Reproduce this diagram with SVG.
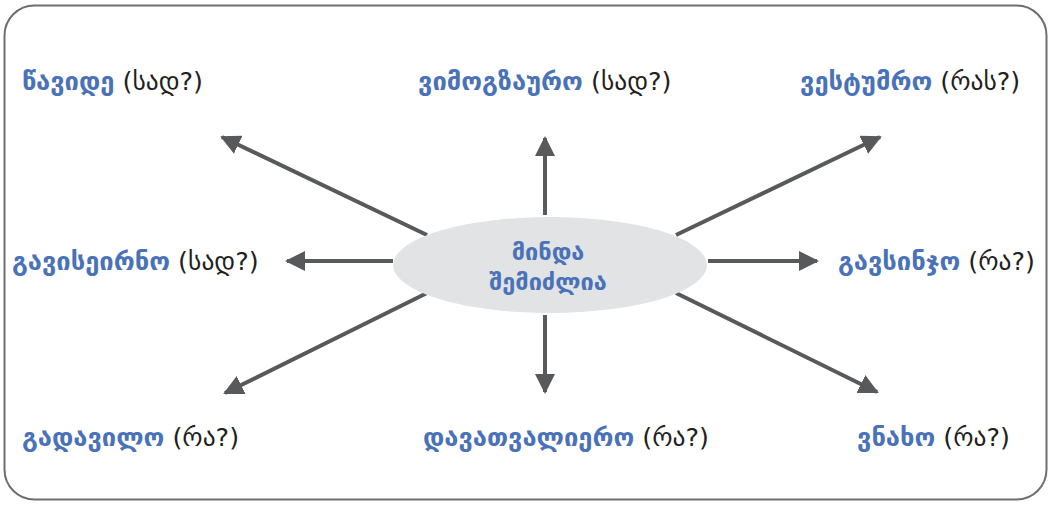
<svg xmlns="http://www.w3.org/2000/svg" width="1051" height="505" viewBox="0 0 1051 505">
<style>
.lbl{font-family:"DejaVu Sans","Noto Sans",sans-serif;font-size:25.5px}
.b{fill:#4a72b8;font-weight:bold}
.k{fill:#231f20}
.c{font-family:"DejaVu Sans","Noto Sans",sans-serif;font-size:23.5px;fill:#4a72b8;font-weight:bold;text-anchor:middle}
.arr{stroke:#58595b;stroke-width:4;fill:none;marker-end:url(#ah)}
</style>
<defs>
<marker id="ah" viewBox="0 0 10 10" refX="9" refY="5" markerWidth="5" markerHeight="5" markerUnits="strokeWidth" orient="auto">
<path d="M0,0 L10,5 L0,10 z" fill="#58595b"/>
</marker>
</defs>
<rect x="4.5" y="5.5" width="1042" height="494" rx="30" fill="#fff" stroke="#6d6e71" stroke-width="2"/>
<g id="connectors">
<line class="arr" x1="427" y1="235" x2="222" y2="137"/>
<line class="arr" x1="545" y1="215" x2="545" y2="138"/>
<line class="arr" x1="676" y1="235" x2="880" y2="137"/>
<line class="arr" x1="393" y1="261" x2="287" y2="261"/>
<line class="arr" x1="708" y1="261" x2="817" y2="261"/>
<line class="arr" x1="427" y1="293" x2="225" y2="393"/>
<line class="arr" x1="545" y1="315" x2="545" y2="392"/>
<line class="arr" x1="676" y1="293" x2="877" y2="392"/>
</g>
<g id="center">
<ellipse cx="550" cy="265" rx="157" ry="48" fill="#e2e3e5"/>
<text class="c" x="548" y="260">მინდა</text>
<text class="c" x="548" y="290">შემიძლია</text>
</g>
<g id="n1"><text class="lbl" x="22" y="90"><tspan class="b">წავიდე</tspan><tspan class="k"> (სად?)</tspan></text></g>
<g id="n2"><text class="lbl" x="418" y="90"><tspan class="b">ვიმოგზაურო</tspan><tspan class="k"> (სად?)</tspan></text></g>
<g id="n3"><text class="lbl" x="800" y="90"><tspan class="b">ვესტუმრო</tspan><tspan class="k"> (რას?)</tspan></text></g>
<g id="n4"><text class="lbl" x="12" y="270"><tspan class="b">გავისეირნო</tspan><tspan class="k"> (სად?)</tspan></text></g>
<g id="n5"><text class="lbl" x="838" y="270"><tspan class="b">გავსინჯო</tspan><tspan class="k"> (რა?)</tspan></text></g>
<g id="n6"><text class="lbl" x="22" y="446"><tspan class="b">გადავილო</tspan><tspan class="k"> (რა?)</tspan></text></g>
<g id="n7"><text class="lbl" x="423" y="446"><tspan class="b">დავათვალიერო</tspan><tspan class="k"> (რა?)</tspan></text></g>
<g id="n8"><text class="lbl" x="857" y="446"><tspan class="b">ვნახო</tspan><tspan class="k"> (რა?)</tspan></text></g>
</svg>
